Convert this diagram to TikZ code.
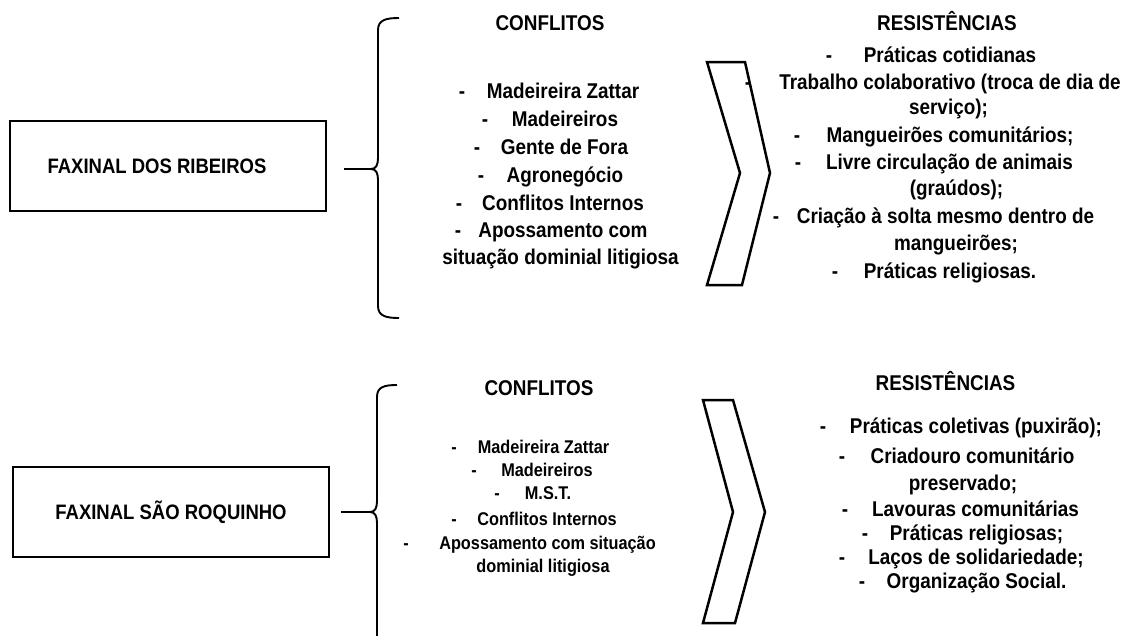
\documentclass[tikz,border=0pt]{standalone}
\usepackage{fontspec}
\setmainfont{Liberation Sans}
\newcommand\Tx[1]{\scalebox{1}[1.13]{#1}}
\newcommand\ItemLn[6]{%
  \node[#2] (#1) at (#4,#5) {\Tx{#6}};
  \node[#2] (#1d) at (#3,#5) {\Tx{-}};}
\begin{document}
\begin{tikzpicture}[x=1pt,y=-1pt,
  big/.style={font=\fontsize{18.9}{22}\selectfont\bfseries, inner sep=0pt, text height=15.2pt, text depth=0pt, anchor=center},
  sml/.style={font=\fontsize{16.3}{20}\selectfont\bfseries, inner sep=0pt, text height=13.2pt, text depth=0pt, anchor=center},
  boxst/.style={draw, line width=2pt, minimum width=316pt, minimum height=90pt, inner sep=0pt, font=\fontsize{18.5}{22}\selectfont\bfseries},
  bracest/.style={line width=1.9pt},
  chev/.style={draw, line width=2.5pt, line join=miter}]
\useasboundingbox (0,0) rectangle (1123,635);

% ---------- top block ----------
\node[boxst] (b1) at (168,166) {\hspace*{-22pt}\Tx{FAXINAL DOS RIBEIROS}};
\coordinate (s1) at (344,169);
\coordinate (t1) at (371,169);
\draw[bracest] (s1) -- (t1);
\draw[bracest] (399,18) .. controls (386,18) and (378,20) .. (378,30) -- (378,158)
  .. controls (378,165) and (376,169) .. (t1)
  .. controls (376,169) and (378,173) .. (378,180) -- (378,306)
  .. controls (378,316) and (386,318) .. (399,318);

\node[big] (c1) at (550,23) {\Tx{CONFLITOS}};
\ItemLn{c1a}{big}{462}{563}{91}{Madeireira Zattar}
\ItemLn{c1b}{big}{485}{565}{119}{Madeireiros}
\ItemLn{c1c}{big}{477}{564.5}{147}{Gente de Fora}
\ItemLn{c1e}{big}{481}{565}{175}{Agronegócio}
\ItemLn{c1f}{big}{459}{563}{203}{Conflitos Internos}
\ItemLn{c1g}{big}{458}{563}{230}{Apossamento com}
\node[big] (c1h) at (560.5,257) {\Tx{situação dominial litigiosa}};

\draw[chev] (707,62) -- (745,62) -- (770,173) -- (742,285) -- (707,285) -- (740,173) -- cycle;

\node[big] (r1) at (947,23) {\Tx{RESISTÊNCIAS}};
\ItemLn{r1a}{big}{829}{950}{55}{Práticas cotidianas}
\ItemLn{r1b}{big}{748}{950}{82}{Trabalho colaborativo (troca de dia de}
\node[big] (r1c) at (948.5,107) {\Tx{serviço);}};
\ItemLn{r1e}{big}{797}{950}{135}{Mangueirões comunitários;}
\ItemLn{r1f}{big}{798}{949.5}{162}{Livre circulação de animais}
\node[big] (r1g) at (956.5,188) {\Tx{(graúdos);}};
\ItemLn{r1h}{big}{776}{945.5}{216}{Criação à solta mesmo dentro de}
\node[big] (r1i) at (956,243) {\Tx{mangueirões;}};
\ItemLn{r1j}{big}{835}{950}{271}{Práticas religiosas.}

% ---------- bottom block ----------
\node[boxst] (b2) at (171,512) {\Tx{FAXINAL SÃO ROQUINHO}};
\coordinate (s2) at (341,512);
\coordinate (t2) at (370,512);
\draw[bracest] (s2) -- (t2);
\draw[bracest] (397,385) .. controls (384,385) and (377,387) .. (377,397) -- (377,501)
  .. controls (377,508) and (375,512) .. (t2)
  .. controls (375,512) and (377,516) .. (377,523) -- (377,645);

\node[big] (c2) at (539,388) {\Tx{CONFLITOS}};
\ItemLn{c2a}{sml}{454}{543.5}{447}{Madeireira Zattar}
\ItemLn{c2b}{sml}{474}{547}{470}{Madeireiros}
\ItemLn{c2c}{sml}{497}{548}{493}{M.S.T.}
\ItemLn{c2e}{sml}{454}{547}{519}{Conflitos Internos}
\ItemLn{c2f}{sml}{406}{547.5}{543}{Apossamento com situação}
\node[sml] (c2g) at (543,566) {\Tx{dominial litigiosa}};

\draw[chev] (703,400) -- (733,400) -- (765,512) -- (735,623) -- (703,623) -- (733,512) -- cycle;

\node[big] (r2) at (945.5,383) {\Tx{RESISTÊNCIAS}};
\ItemLn{r2a}{big}{823}{976}{426}{Práticas coletivas (puxirão);}
\ItemLn{r2b}{big}{842}{972.5}{456}{Criadouro comunitário}
\node[big] (r2c) at (963,483) {\Tx{preservado;}};
\ItemLn{r2e}{big}{845}{975.5}{509}{Lavouras comunitárias}
\ItemLn{r2f}{big}{865}{976.5}{533}{Práticas religiosas;}
\ItemLn{r2g}{big}{842}{976}{557}{Laços de solidariedade;}
\ItemLn{r2h}{big}{862}{976.5}{581}{Organização Social.}
\end{tikzpicture}
\end{document}
